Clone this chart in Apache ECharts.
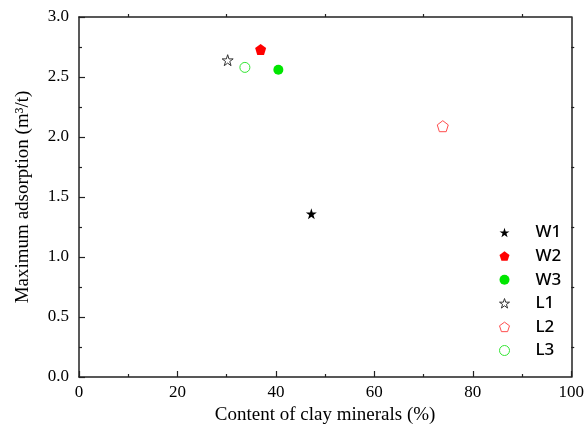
<!DOCTYPE html>
<html>
<head>
<meta charset="utf-8">
<script src="https://cdn.jsdelivr.net/npm/echarts@6/dist/echarts.min.js"></script>
<style>
  html, body { margin: 0; padding: 0; background: #fff; }
  #chart { width: 587px; height: 437px; }
</style>
</head>
<body>
<div id="chart"></div>
<script>
// Sample names, clay mineral content (%) and maximum adsorption (m3/t)
const sampleNames = ['W1', 'W2', 'W3', 'L1', 'L2', 'L3'];
const clayContent = [47.2, 36.9, 40.5, 30.2, 73.9, 33.7];
const maxAdsorption = [1.36, 2.73, 2.56, 2.64, 2.09, 2.58];

// Axis ranges and tick labels
const xTicks = [0, 20, 40, 60, 80, 100];
const yTicks = ['0.0', '0.5', '1.0', '1.5', '2.0', '2.5', '3.0'];

const STAR = 'path://M50 0 L61.23 34.55 L97.55 34.55 L68.17 55.9 L79.39 90.45 L50 69.1 L20.61 90.45 L31.83 55.9 L2.45 34.55 L38.77 34.55 Z';
const PENTAGON = 'path://M50 0 L97.55 34.55 L79.39 90.45 L20.61 90.45 L2.45 34.55 Z';

// Marker style per sample
const markerStyles = {
  W1: { symbol: STAR, size: 11, itemStyle: { color: '#000', borderColor: '#000', borderWidth: 0, opacity: 1 } },
  W2: { symbol: PENTAGON, size: 11, itemStyle: { color: '#ff0000', borderColor: '#ff0000', borderWidth: 0, opacity: 1 } },
  W3: { symbol: 'circle', size: 10, itemStyle: { color: '#00e600', borderColor: '#00e600', borderWidth: 0, opacity: 1 } },
  L1: { symbol: STAR, size: 11, itemStyle: { color: '#fff', borderColor: '#333', borderWidth: 1, opacity: 1 } },
  L2: { symbol: PENTAGON, size: 11, itemStyle: { color: '#fff', borderColor: '#ff4d4d', borderWidth: 1, opacity: 1 } },
  L3: { symbol: 'circle', size: 10, itemStyle: { color: '#fff', borderColor: '#33e633', borderWidth: 1, opacity: 1 } }
};

const serif = '"Liberation Serif", "Times New Roman", serif';
const axisLineStyle = { color: '#222', width: 1.5 };

const series = sampleNames.map((name, i) => ({
  name: name,
  type: 'scatter',
  xAxisIndex: 0,
  yAxisIndex: 0,
  symbol: markerStyles[name].symbol,
  symbolSize: markerStyles[name].size,
  itemStyle: markerStyles[name].itemStyle,
  data: [[clayContent[i], maxAdsorption[i]]]
}));

const legendItems = sampleNames.map((name) => ({
  name: name,
  icon: markerStyles[name].symbol,
  itemStyle: Object.assign({}, markerStyles[name].itemStyle)
}));

const chart = echarts.init(document.getElementById('chart'));
chart.setOption({
  animation: false,
  backgroundColor: '#fff',
  grid: { left: 79, right: 15, top: 17, bottom: 60 },
  legend: {
    orient: 'vertical',
    left: 494,
    top: 219,
    itemWidth: 10,
    itemHeight: 10,
    itemGap: 6.6,
    data: legendItems,
    textStyle: {
      fontFamily: '"Noto Sans", sans-serif',
      fontWeight: '500 condensed',
      fontSize: 17,
      color: '#000',
      padding: [0, 0, 0, 21],
      lineHeight: 17
    }
  },
  xAxis: [
    {
      type: 'value', position: 'bottom',
      min: xTicks[0], max: xTicks[xTicks.length - 1], interval: 20,
      name: 'Content of clay minerals (%)',
      nameLocation: 'middle', nameGap: 25,
      nameTextStyle: { fontFamily: serif, fontSize: 19, color: '#000' },
      axisLine: { onZero: false, lineStyle: axisLineStyle },
      axisTick: { inside: true, length: 6, lineStyle: { color: '#222', width: 1.2 } },
      minorTick: { show: true, splitNumber: 2, length: 3, lineStyle: { color: '#222', width: 1.2 } },
      axisLabel: { fontFamily: serif, fontSize: 17, color: '#000', margin: 7 },
      splitLine: { show: false }
    },
    {
      type: 'value', position: 'top',
      min: xTicks[0], max: xTicks[xTicks.length - 1], interval: 20,
      axisLine: { onZero: false, lineStyle: axisLineStyle },
      axisTick: { show: false },
      minorTick: { show: true, splitNumber: 2, length: 3, lineStyle: { color: '#222', width: 1.2 } },
      axisLabel: { show: false },
      splitLine: { show: false }
    }
  ],
  yAxis: [
    {
      type: 'value', position: 'left',
      min: 0, max: 3, interval: 0.5,
      name: 'Maximum adsorption (m\u00b3/t)',
      nameLocation: 'middle', nameGap: 46,
      nameTextStyle: { fontFamily: serif, fontSize: 19, color: '#000' },
      axisLine: { onZero: false, lineStyle: axisLineStyle },
      axisTick: { inside: true, length: 6, lineStyle: { color: '#222', width: 1.2 } },
      minorTick: { show: true, splitNumber: 2, length: 3, lineStyle: { color: '#222', width: 1.2 } },
      axisLabel: {
        fontFamily: serif, fontSize: 17, color: '#000', margin: 10,
        formatter: (v) => yTicks[Math.round(v / 0.5)]
      },
      splitLine: { show: false }
    },
    {
      type: 'value', position: 'right',
      min: 0, max: 3, interval: 0.5,
      axisLine: { onZero: false, lineStyle: axisLineStyle },
      axisTick: { show: false },
      minorTick: { show: true, splitNumber: 2, length: 3, lineStyle: { color: '#222', width: 1.2 } },
      axisLabel: { show: false },
      splitLine: { show: false }
    }
  ],
  series: series
});
</script>
</body>
</html>
